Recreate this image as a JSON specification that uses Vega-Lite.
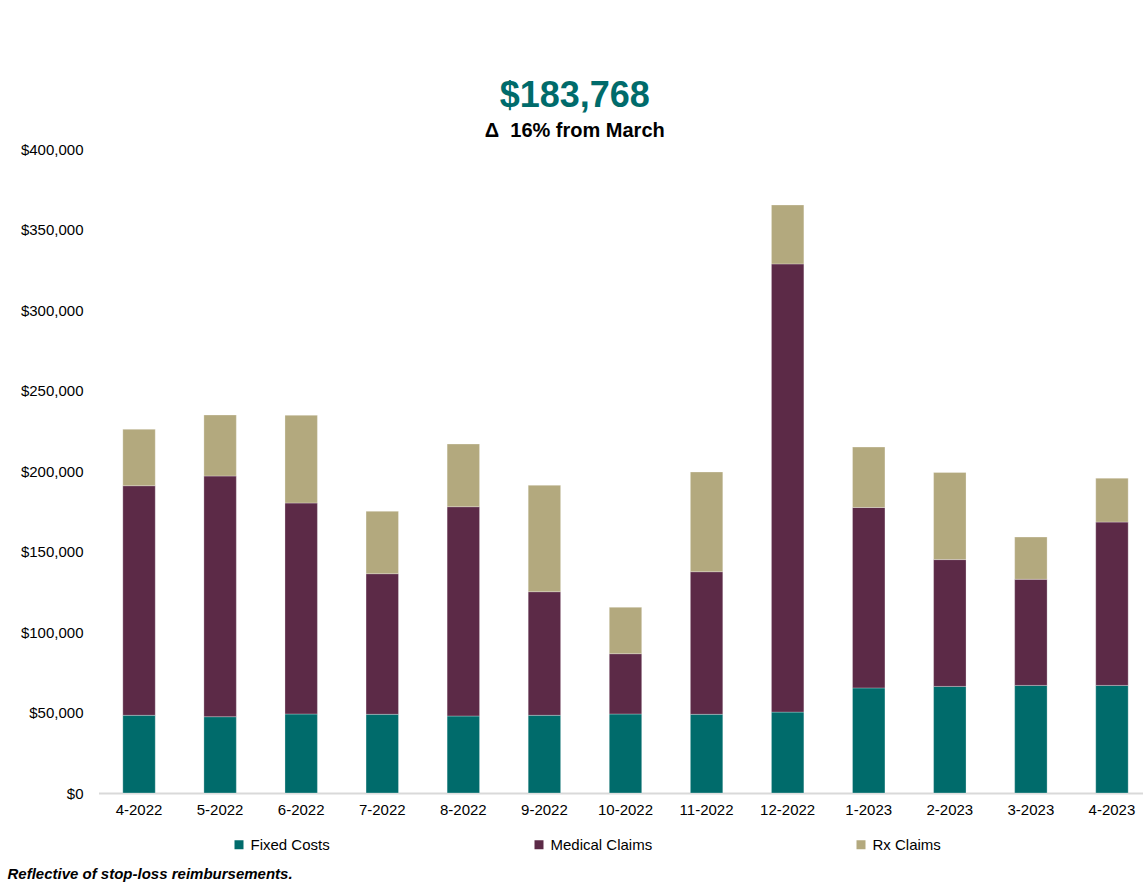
{
  "$schema": "https://vega.github.io/schema/vega-lite/v6.json",
  "autosize": {"type": "none"},
  "width": 1044.5,
  "height": 644,
  "padding": {"left": 98.5, "top": 149, "right": 0, "bottom": 99},
  "background": "white",
  "title": {
    "text": "$183,768",
    "subtitle": "Δ\u00a0\u00a016% from March\u00a0\u00a0",
    "anchor": "middle",
    "frame": "group",
    "dx": -46,
    "offset": 0,
    "font": "Liberation Sans",
    "fontSize": 36,
    "fontWeight": "bold",
    "color": "#006b6b",
    "subtitleFont": "Liberation Sans",
    "subtitleFontSize": 20,
    "subtitleFontWeight": "bold",
    "subtitleColor": "#000000",
    "subtitlePadding": 6
  },
  "data": {
    "values": [
      {"month": "4-2022", "series": "Fixed Costs", "value": 48260},
      {"month": "4-2022", "series": "Medical Claims", "value": 142600},
      {"month": "4-2022", "series": "Rx Claims", "value": 35040},
      {"month": "5-2022", "series": "Fixed Costs", "value": 47390},
      {"month": "5-2022", "series": "Medical Claims", "value": 149500},
      {"month": "5-2022", "series": "Rx Claims", "value": 37890},
      {"month": "6-2022", "series": "Fixed Costs", "value": 49070},
      {"month": "6-2022", "series": "Medical Claims", "value": 131050},
      {"month": "6-2022", "series": "Rx Claims", "value": 54470},
      {"month": "7-2022", "series": "Fixed Costs", "value": 48880},
      {"month": "7-2022", "series": "Medical Claims", "value": 87330},
      {"month": "7-2022", "series": "Rx Claims", "value": 38750},
      {"month": "8-2022", "series": "Fixed Costs", "value": 47820},
      {"month": "8-2022", "series": "Medical Claims", "value": 130000},
      {"month": "8-2022", "series": "Rx Claims", "value": 38940},
      {"month": "9-2022", "series": "Fixed Costs", "value": 48260},
      {"month": "9-2022", "series": "Medical Claims", "value": 76770},
      {"month": "9-2022", "series": "Rx Claims", "value": 66080},
      {"month": "10-2022", "series": "Fixed Costs", "value": 49070},
      {"month": "10-2022", "series": "Medical Claims", "value": 37450},
      {"month": "10-2022", "series": "Rx Claims", "value": 28820},
      {"month": "11-2022", "series": "Fixed Costs", "value": 48880},
      {"month": "11-2022", "series": "Medical Claims", "value": 88570},
      {"month": "11-2022", "series": "Rx Claims", "value": 61920},
      {"month": "12-2022", "series": "Fixed Costs", "value": 50250},
      {"month": "12-2022", "series": "Medical Claims", "value": 278380},
      {"month": "12-2022", "series": "Rx Claims", "value": 36580},
      {"month": "1-2023", "series": "Fixed Costs", "value": 65280},
      {"month": "1-2023", "series": "Medical Claims", "value": 112040},
      {"month": "1-2023", "series": "Rx Claims", "value": 37520},
      {"month": "2-2023", "series": "Fixed Costs", "value": 66210},
      {"month": "2-2023", "series": "Medical Claims", "value": 78750},
      {"month": "2-2023", "series": "Rx Claims", "value": 54110},
      {"month": "3-2023", "series": "Fixed Costs", "value": 66830},
      {"month": "3-2023", "series": "Medical Claims", "value": 65900},
      {"month": "3-2023", "series": "Rx Claims", "value": 26210},
      {"month": "4-2023", "series": "Fixed Costs", "value": 66830},
      {"month": "4-2023", "series": "Medical Claims", "value": 101430},
      {"month": "4-2023", "series": "Rx Claims", "value": 27260}
    ]
  },
  "mark": {"type": "bar", "stroke": "#ffffff", "strokeWidth": 0.8, "strokeOpacity": 0.35},
  "encoding": {
    "x": {
      "field": "month",
      "type": "nominal",
      "sort": null,
      "scale": {"range": [0, 1054], "paddingInner": 0.6, "paddingOuter": 0.3},
      "axis": {
        "title": "Reflective of stop-loss reimbursements.",
        "titleFont": "Liberation Sans",
        "titleFontSize": 15,
        "titleFontWeight": "bold",
        "titleFontStyle": "italic",
        "titleColor": "#000000",
        "titleAnchor": "start",
        "titleAlign": "left",
        "titleBaseline": "alphabetic",
        "titleX": -91.5,
        "titleY": 85,
        "labelAngle": 0,
        "labelFont": "Liberation Sans",
        "labelFontSize": 15,
        "labelColor": "#000000",
        "labelPadding": 9,
        "ticks": false,
        "domainColor": "#d9d9d9",
        "domainWidth": 2,
        "grid": false
      }
    },
    "y": {
      "field": "value",
      "type": "quantitative",
      "stack": "zero",
      "scale": {"domain": [0, 400000], "nice": false},
      "axis": {
        "title": null,
        "values": [0, 50000, 100000, 150000, 200000, 250000, 300000, 350000, 400000],
        "format": "$,.0f",
        "labelFont": "Liberation Sans",
        "labelFontSize": 15,
        "labelColor": "#000000",
        "labelPadding": 15.5,
        "ticks": false,
        "domain": false,
        "grid": false
      }
    },
    "color": {
      "field": "series",
      "type": "nominal",
      "scale": {
        "domain": ["Fixed Costs", "Medical Claims", "Rx Claims"],
        "range": ["#006b6b", "#5c2a47", "#b3a97e"]
      },
      "legend": {
        "title": null,
        "orient": "none",
        "legendX": 133,
        "legendY": 688,
        "direction": "horizontal",
        "columns": 3,
        "columnPadding": 201,
        "symbolType": "square",
        "symbolSize": 81,
        "symbolStrokeWidth": 0,
        "labelOffset": 4,
        "labelFont": "Liberation Sans",
        "labelFontSize": 15,
        "labelColor": "#000000"
      }
    },
    "order": {"field": "series", "sort": "ascending"}
  },
  "config": {"view": {"stroke": null}}
}
